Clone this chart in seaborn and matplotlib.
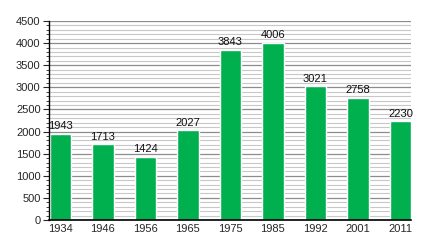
import matplotlib
matplotlib.use("Agg")
import matplotlib.pyplot as plt
import seaborn as sns
import pandas as pd
from matplotlib.ticker import MultipleLocator

years = ["1934", "1946", "1956", "1965", "1975", "1985", "1992", "2001", "2011"]
population = [1943, 1713, 1424, 2027, 3843, 4006, 3021, 2758, 2230]

df = pd.DataFrame({"year": years, "pop": population})

sns.set_style("white")
plt.rcParams["font.family"] = ["Liberation Sans", "DejaVu Sans"]

fig = plt.figure(figsize=(4.4, 2.4), dpi=100)
ax = fig.add_axes([49/440, 20/240, 362/440, 199/240])

ax.yaxis.set_major_locator(MultipleLocator(500))
ax.yaxis.set_minor_locator(MultipleLocator(100))
ax.grid(which="minor", axis="y", color="#c8c8c8", linewidth=0.8)
ax.grid(which="major", axis="y", color="#8c8c8c", linewidth=0.9)
ax.set_axisbelow(True)

sns.barplot(data=df, x="year", y="pop", color="#00B04F", saturation=1, width=0.5, ax=ax)

for i, v in enumerate(population):
    ax.text(i, v + 60, str(v), ha="center", va="bottom", fontsize=8, color="#111111")

ax.set_xlim(-0.27, 8.25)
ax.set_ylim(0, 4500)
ax.set_xlabel("")
ax.set_ylabel("")
for s in ["top", "right"]:
    ax.spines[s].set_visible(False)
ax.spines["left"].set_color("black")
ax.spines["bottom"].set_color("black")
ax.spines["bottom"].set_linewidth(1.2)
ax.spines["left"].set_linewidth(1.0)
ax.tick_params(axis="y", which="major", length=4, width=0.8, labelsize=8, left=True, pad=2)
ax.tick_params(axis="y", which="minor", length=2, width=0.6, left=True)
ax.tick_params(axis="x", length=0, labelsize=8, pad=3)

fig.savefig("out.png", dpi=100)
